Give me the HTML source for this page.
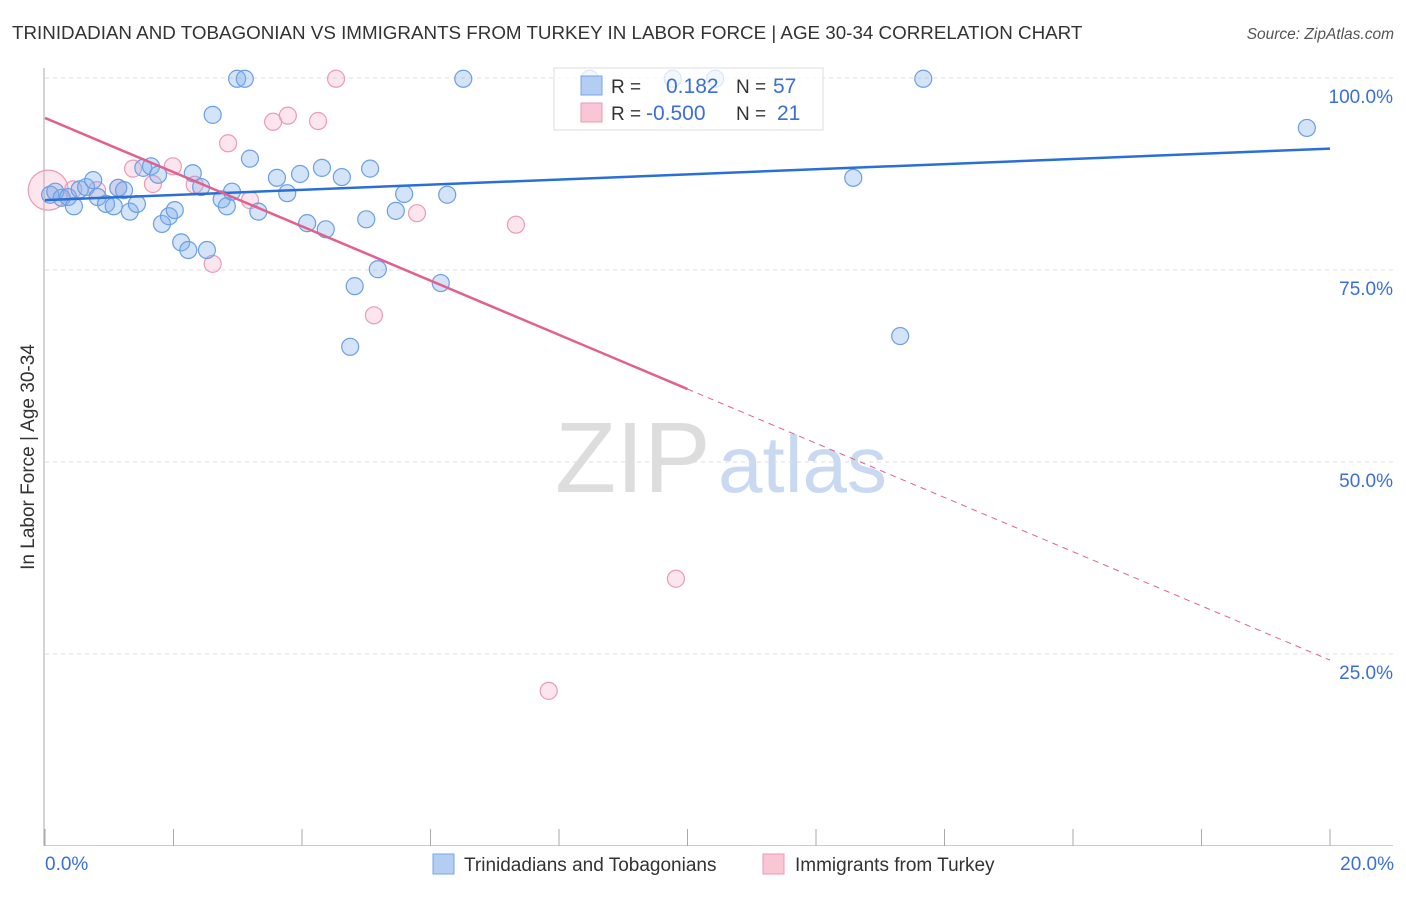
<!DOCTYPE html>
<html><head><meta charset="utf-8"><style>
body{margin:0;background:#fff;font-family:"Liberation Sans",sans-serif;}
svg text{font-family:"Liberation Sans",sans-serif;}
</style></head><body>
<svg width="1406" height="892" xmlns="http://www.w3.org/2000/svg">
<text x="12" y="39" font-size="18.8" fill="#333">TRINIDADIAN AND TOBAGONIAN VS IMMIGRANTS FROM TURKEY IN LABOR FORCE | AGE 30-34 CORRELATION CHART</text>
<text x="1394" y="39" font-size="15.5" fill="#555" font-style="italic" text-anchor="end">Source: ZipAtlas.com</text>
<text x="555" y="492" font-size="100" fill="#ddd" font-family="Liberation Serif">ZIP</text>
<text x="718" y="492" font-size="80" fill="#c9d9f2">atlas</text>
<g id="grid"></g>
<g id="axes"></g>
<g id="marks"></g>
<text transform="translate(34,457) rotate(-90)" font-size="19" fill="#333" text-anchor="middle">In Labor Force | Age 30-34</text>
<text x="45" y="870" font-size="19" fill="#3a6fd8">0.0%</text>
<text x="1394" y="870" font-size="19" fill="#3a6fd8" text-anchor="end">20.0%</text>
<g>
<rect x="554" y="68" width="269" height="62" fill="rgba(255,255,255,0.75)" stroke="#ddd"/>
<rect x="581" y="76" width="21" height="19" fill="#b3cdf3" stroke="#7aa5e6"/>
<rect x="581" y="103" width="21" height="19" fill="#f9c6d5" stroke="#ec9ab4"/>
<text x="611" y="93" font-size="19" fill="#333">R =</text>
<text x="666" y="93" font-size="21" fill="#3a6fd8">0.182</text>
<text x="736" y="93" font-size="19" fill="#333">N =</text>
<text x="773" y="93" font-size="21" fill="#3a6fd8">57</text>
<text x="611" y="120" font-size="19" fill="#333">R =</text>
<text x="646" y="120" font-size="21" fill="#3a6fd8">-0.500</text>
<text x="736" y="120" font-size="19" fill="#333">N =</text>
<text x="777" y="120" font-size="21" fill="#3a6fd8">21</text>
</g>
<g>
<rect x="433" y="854" width="21" height="20" fill="#b3cdf3" stroke="#7aa5e6"/>
<text x="464" y="871" font-size="19" fill="#333">Trinidadians and Tobagonians</text>
<rect x="763" y="854" width="21" height="20" fill="#f9c6d5" stroke="#ec9ab4"/>
<text x="795" y="871" font-size="19" fill="#333">Immigrants from Turkey</text>
</g>
</svg>
<script>
const yTicks=[100,75,50,25];
const yTickLabels=["100.0%","75.0%","50.0%","25.0%"];
const xTicks=[0,2,4,6,8,10,12,14,16,18,20];
const blueX=[0.08,0.16,0.26,0.36,0.45,0.54,0.64,0.75,0.82,0.95,1.07,1.14,1.23,1.32,1.43,1.53,1.65,1.76,1.82,1.93,2.02,2.12,2.23,2.30,2.43,2.52,2.61,2.75,2.83,2.91,2.99,3.11,3.19,3.32,3.61,3.77,3.97,4.08,4.31,4.37,4.62,4.82,4.75,5.00,5.06,5.18,5.46,5.59,6.16,6.26,6.51,8.48,9.77,10.43,12.58,13.31,13.67,19.64];
const blueY=[84.8,85.2,84.4,84.5,83.3,85.5,85.8,86.7,84.5,83.6,83.3,85.7,85.4,82.6,83.6,88.3,88.5,87.4,81.0,82.0,82.8,78.6,77.6,87.6,85.8,77.6,95.2,84.2,83.3,85.2,99.9,99.9,89.5,82.6,87.0,85.0,87.5,81.1,88.3,80.3,87.1,72.9,65.0,81.6,88.2,75.1,82.7,84.9,73.3,84.8,99.9,99.9,99.9,99.9,87.0,66.4,99.9,93.5];
const pinkX=[0.05,0.44,0.81,1.14,1.37,1.68,1.99,2.33,2.61,2.85,3.19,3.55,3.78,4.25,4.53,5.12,5.79,7.33,9.82,7.84];
const pinkY=[85.4,85.5,85.4,85.7,88.2,86.2,88.5,86.1,75.8,91.5,84.1,94.3,95.1,94.4,99.9,69.1,82.4,80.9,34.8,20.2];
const blueTrend=[84.1,90.8];
const pinkTrend=[94.8,24.2];
const pinkSolidEnd=10;
const NS="http://www.w3.org/2000/svg";
const sx=v=>45+v/20*1285;
const sy=v=>846-v/100*768;
function mk(tag,attrs,parent){const e=document.createElementNS(NS,tag);for(const k in attrs)e.setAttribute(k,attrs[k]);document.getElementById(parent).appendChild(e);return e;}
yTicks.forEach((t,i)=>{
  const l=mk('line',{x1:45,x2:1393,y1:sy(t),y2:sy(t),stroke:'#ddd','stroke-dasharray':'4,4'},'grid');
  
  
  const tx=mk('text',{x:1393,y:sy(t)+25,'font-size':19,fill:'#3a6fd8','text-anchor':'end'},'grid');
  tx.textContent=yTickLabels[i];
  
  
});
const ya=mk('line',{x1:44,x2:44,y1:68,y2:846,stroke:'#aaa'},'axes');


const xa=mk('line',{x1:44,x2:1393,y1:845.5,y2:845.5,stroke:'#ccc'},'axes');


xTicks.forEach(t=>{
  const l=mk('line',{x1:sx(t),x2:sx(t),y1:829,y2:846,stroke:'#aaa'},'axes');
  
  
});
pinkX.forEach((x,i)=>{
  const c=mk('circle',{cx:sx(x),cy:sy(pinkY[i]),r:i===0?20:8.5,fill:'rgba(244,168,192,0.3)',stroke:'#eb9bb5','stroke-width':1.2},'marks');
  
  
});
blueX.forEach((x,i)=>{
  const c=mk('circle',{cx:sx(x),cy:sy(blueY[i]),r:8.5,fill:'rgba(130,175,235,0.35)',stroke:'#6b9fe3','stroke-width':1.2},'marks');
  
  
});
const bl=mk('line',{x1:sx(0),y1:sy(blueTrend[0]),x2:sx(20),y2:sy(blueTrend[1]),stroke:'#2a6fd6','stroke-width':2.5},'marks');


const pm=pinkTrend[0]+(pinkTrend[1]-pinkTrend[0])*pinkSolidEnd/20;
const pl=mk('line',{x1:sx(0),y1:sy(pinkTrend[0]),x2:sx(pinkSolidEnd),y2:sy(pm),stroke:'#e2608e','stroke-width':2.5},'marks');


const pd=mk('line',{x1:sx(pinkSolidEnd),y1:sy(pm),x2:sx(20),y2:sy(pinkTrend[1]),stroke:'#e2608e','stroke-width':1,'stroke-dasharray':'6,5'},'marks');


</script>
</body></html>
